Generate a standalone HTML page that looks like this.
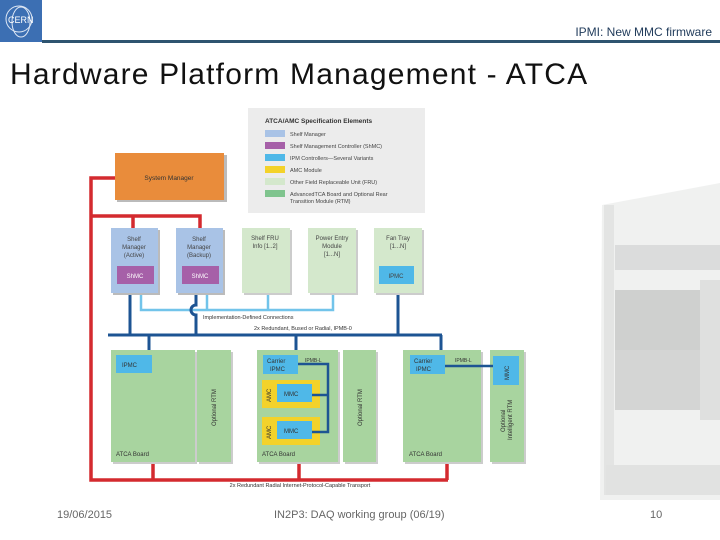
<!DOCTYPE html>
<html><head><meta charset="utf-8"><style>
body{margin:0;width:720px;height:540px;overflow:hidden;background:#fff;font-family:"Liberation Sans",sans-serif;position:relative}
.t{position:absolute;white-space:nowrap}
</style></head><body>
<div style="position:absolute;left:0;top:0;width:42px;height:42px;background:#3c6fb3"></div>
<svg style="position:absolute;left:0;top:0" width="42" height="42"><circle cx="19" cy="19" r="13" fill="none" stroke="#dfe8f5" stroke-width="1"/><ellipse cx="21" cy="22" rx="9" ry="15" fill="none" stroke="#dfe8f5" stroke-width="1"/><text x="8" y="23" font-size="9" fill="#fff" font-family="Liberation Sans">CERN</text></svg>
<div style="position:absolute;left:42px;top:40px;width:678px;height:3px;background:#2e5470"></div>
<div class="t" style="right:8px;top:25px;font-size:12px;color:#1f3a5a">IPMI: New MMC firmware</div>
<div class="t" style="left:10px;top:58px;font-size:30px;color:#111;letter-spacing:1.2px">Hardware Platform Management - ATCA</div>

<svg style="position:absolute;left:0;top:0" width="720" height="540" font-family="Liberation Sans">
<!-- rack photo -->
<g opacity="0.5">
<polygon points="602,205 720,183 720,500 600,500" fill="#e2e4e3"/>
<rect x="604" y="205" width="10" height="290" fill="#c8cac9"/>
<rect x="615" y="245" width="105" height="25" fill="#b9bbba"/>
<rect x="615" y="290" width="105" height="60" fill="#a0a2a1"/>
<rect x="615" y="350" width="105" height="60" fill="#aaacab"/>
<rect x="700" y="280" width="20" height="140" fill="#c0c2c1"/>
<rect x="606" y="465" width="114" height="30" fill="#c4c6c5"/>
</g>
<!-- legend -->
<rect x="248" y="108" width="177" height="105" fill="#ececec"/>
<text x="265" y="123" font-size="6.5" font-weight="bold" fill="#333">ATCA/AMC Specification Elements</text>
<g font-size="5.5" fill="#444">
<rect x="265" y="130" width="20" height="7" fill="#a9c3e6"/><text x="290" y="136">Shelf Manager</text>
<rect x="265" y="142" width="20" height="7" fill="#a660a8"/><text x="290" y="148">Shelf Management Controller (ShMC)</text>
<rect x="265" y="154" width="20" height="7" fill="#4fb8e8"/><text x="290" y="160">IPM Controllers—Several Variants</text>
<rect x="265" y="166" width="20" height="7" fill="#f3d22a"/><text x="290" y="172">AMC Module</text>
<rect x="265" y="178" width="20" height="7" fill="#d4e8cc"/><text x="290" y="184">Other Field Replaceable Unit (FRU)</text>
<rect x="265" y="190" width="20" height="7" fill="#7fc48e"/><text x="290" y="196">AdvancedTCA Board and Optional Rear</text><text x="290" y="203">Transition Module (RTM)</text>
</g>
<!-- red lines -->
<g stroke="#d42a2f" stroke-width="3.5" fill="none">
<polyline points="115,178 91,178 91,480 448,480"/>
<polyline points="91,216 200,216 200,230"/>
<line x1="133" y1="216" x2="133" y2="230"/>
<line x1="153" y1="462" x2="153" y2="480"/>
<line x1="299" y1="462" x2="299" y2="480"/>
<line x1="447" y1="462" x2="447" y2="480"/>
</g>
<!-- system manager -->
<rect x="117" y="155" width="110" height="47" fill="#bbb"/>
<rect x="115" y="153" width="109" height="47" fill="#e98c3b"/>
<text x="169" y="180" font-size="6.5" fill="#333" text-anchor="middle">System Manager</text>
<!-- light blue lines -->
<g stroke="#72c4ea" stroke-width="2.5" fill="none">
<polyline points="141,293 141,310 333,310 333,293"/>
<line x1="207" y1="293" x2="207" y2="310"/><line x1="268" y1="293" x2="268" y2="310"/>
</g>
<!-- dark blue -->
<g stroke="#1d5493" stroke-width="3" fill="none">
<line x1="130" y1="293" x2="130" y2="335"/>
<path d="M196,293 V305 a4,4 0 0 0 0,10 V335"/>
<line x1="398" y1="284" x2="398" y2="335"/>
<line x1="108" y1="335" x2="442" y2="335"/>
<line x1="149" y1="335" x2="149" y2="352"/><line x1="296" y1="335" x2="296" y2="352"/><line x1="441" y1="335" x2="441" y2="352"/>
</g>
<text x="203" y="319" font-size="5.5" fill="#333">Implementation-Defined Connections</text>
<text x="254" y="330" font-size="5.5" fill="#333">2x Redundant, Bused or Radial, IPMB-0</text>
<!-- shelf boxes -->
<g>
<rect x="113" y="230" width="47" height="65" fill="#bbb"/><rect x="111" y="228" width="47" height="65" fill="#a9c3e6"/>
<rect x="178" y="230" width="47" height="65" fill="#bbb"/><rect x="176" y="228" width="47" height="65" fill="#a9c3e6"/>
<rect x="244" y="230" width="48" height="65" fill="#ccc"/><rect x="242" y="228" width="48" height="65" fill="#d4e8cc"/>
<rect x="310" y="230" width="48" height="65" fill="#ccc"/><rect x="308" y="228" width="48" height="65" fill="#d4e8cc"/>
<rect x="376" y="230" width="48" height="65" fill="#ccc"/><rect x="374" y="228" width="48" height="65" fill="#d4e8cc"/>
<rect x="117" y="266" width="37" height="18" fill="#a660a8"/><rect x="182" y="266" width="37" height="18" fill="#a660a8"/>
<rect x="379" y="266" width="35" height="18" fill="#4fb8e8"/>
</g>
<g font-size="6" fill="#444" text-anchor="middle">
<text x="134" y="241">Shelf</text><text x="134" y="249">Manager</text><text x="134" y="257">(Active)</text>
<text x="199" y="241">Shelf</text><text x="199" y="249">Manager</text><text x="199" y="257">(Backup)</text>
<text x="265" y="240">Shelf FRU</text><text x="265" y="248">Info [1..2]</text>
<text x="332" y="240">Power Entry</text><text x="332" y="248">Module</text><text x="332" y="256">[1...N]</text>
<text x="398" y="240">Fan Tray</text><text x="398" y="248">[1...N]</text>
<text x="135" y="278" fill="#fff">ShMC</text><text x="200" y="278" fill="#fff">ShMC</text><text x="396" y="278">IPMC</text>
</g>
<!-- boards -->
<g>
<rect x="113" y="352" width="84" height="112" fill="#ccc"/><rect x="111" y="350" width="84" height="112" fill="#a8d49f"/>
<rect x="199" y="352" width="34" height="112" fill="#ccc"/><rect x="197" y="350" width="34" height="112" fill="#a8d49f"/>
<rect x="259" y="352" width="81" height="112" fill="#ccc"/><rect x="257" y="350" width="81" height="112" fill="#a8d49f"/>
<rect x="345" y="352" width="33" height="112" fill="#ccc"/><rect x="343" y="350" width="33" height="112" fill="#a8d49f"/>
<rect x="405" y="352" width="78" height="112" fill="#ccc"/><rect x="403" y="350" width="78" height="112" fill="#a8d49f"/>
<rect x="492" y="352" width="34" height="112" fill="#ccc"/><rect x="490" y="350" width="34" height="112" fill="#a8d49f"/>
<rect x="116" y="355" width="36" height="18" fill="#4fb8e8"/>
<rect x="263" y="355" width="35" height="19" fill="#4fb8e8"/>
<rect x="410" y="355" width="35" height="19" fill="#4fb8e8"/>
<rect x="262" y="380" width="58" height="28" fill="#f3d22a"/><rect x="277" y="384" width="35" height="18" fill="#4fb8e8"/>
<rect x="262" y="417" width="58" height="28" fill="#f3d22a"/><rect x="277" y="421" width="35" height="18" fill="#4fb8e8"/>
<rect x="493" y="356" width="26" height="29" fill="#4fb8e8"/>
</g>
<g stroke="#1d5493" stroke-width="2.5" fill="none">
<polyline points="298,364 328,364 328,432 312,432"/>
<line x1="312" y1="395" x2="328" y2="395"/>
<line x1="445" y1="366" x2="493" y2="366"/>
</g>
<g font-size="6" fill="#333">
<text x="122" y="367">IPMC</text>
<text x="267" y="363">Carrier</text><text x="270" y="371">IPMC</text><text x="305" y="362" font-size="5">IPMB-L</text>
<text x="414" y="363">Carrier</text><text x="416" y="371">IPMC</text><text x="455" y="362" font-size="5">IPMB-L</text>
<text x="284" y="396">MMC</text><text x="284" y="433">MMC</text>
<text x="116" y="456">ATCA Board</text><text x="262" y="456">ATCA Board</text><text x="409" y="456">ATCA Board</text>
<text transform="translate(271,402) rotate(-90)">AMC</text>
<text transform="translate(271,439) rotate(-90)">AMC</text>
<text transform="translate(216,426) rotate(-90)">Optional RTM</text>
<text transform="translate(362,426) rotate(-90)">Optional RTM</text>
<text transform="translate(509,380) rotate(-90)">MMC</text>
<text transform="translate(505,432) rotate(-90)">Optional</text>
<text transform="translate(512,440) rotate(-90)">Intelligent RTM</text>
</g>
<text x="300" y="487" font-size="5.5" fill="#333" text-anchor="middle">2x Redundant Radial Internet-Protocol-Capable Transport</text>
</svg>
<div class="t" style="left:57px;top:509px;font-size:11px;color:#666">19/06/2015</div>
<div class="t" style="left:274px;top:509px;font-size:11px;color:#666">IN2P3: DAQ working group (06/19)</div>
<div class="t" style="left:650px;top:509px;font-size:11px;color:#666">10</div>
</body></html>
